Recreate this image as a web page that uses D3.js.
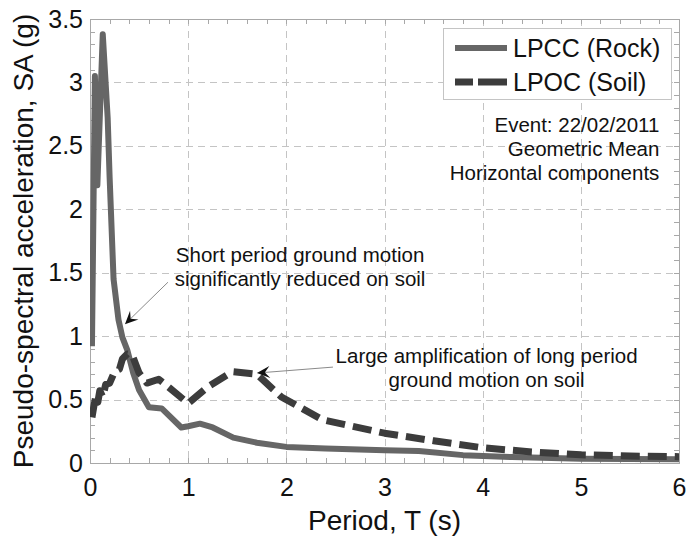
<!DOCTYPE html>
<html>
<head>
<meta charset="utf-8">
<script src="https://cdn.jsdelivr.net/npm/d3@7"></script>
<style>
  body { margin: 0; background: #fff; }
  text { font-family: "Liberation Sans", Arial, Helvetica, sans-serif; fill: #111; }
</style>
</head>
<body>
<svg id="chart" width="688" height="537"></svg>
<script>
// Response spectra, 22 Feb 2011 event (geometric mean of horizontal components)
const rockT  = [0.02, 0.05, 0.075, 0.13, 0.18, 0.20, 0.24, 0.29, 0.33, 0.38, 0.44, 0.50, 0.60, 0.73, 0.93, 1.00, 1.12, 1.25, 1.46, 1.70, 2.00, 2.40, 3.00, 3.35, 3.80, 4.30, 5.00, 6.00];
const rockSA = [0.92, 3.05, 2.19, 3.38, 2.72, 2.25, 1.45, 1.13, 0.99, 0.89, 0.71, 0.575, 0.44, 0.43, 0.28, 0.29, 0.31, 0.28, 0.20, 0.16, 0.127, 0.115, 0.10, 0.095, 0.062, 0.047, 0.033, 0.03];

const soilT  = [0.02, 0.04, 0.06, 0.08, 0.10, 0.13, 0.16, 0.20, 0.25, 0.30, 0.33, 0.38, 0.43, 0.50, 0.58, 0.70, 0.75, 1.00, 1.20, 1.45, 1.70, 1.95, 2.37, 3.00, 3.50, 4.00, 4.50, 5.00, 5.50, 6.00];
const soilSA = [0.36, 0.45, 0.53, 0.48, 0.57, 0.52, 0.62, 0.63, 0.72, 0.74, 0.82, 0.86, 0.85, 0.71, 0.63, 0.66, 0.63, 0.47, 0.60, 0.72, 0.70, 0.52, 0.34, 0.235, 0.175, 0.12, 0.087, 0.065, 0.055, 0.05];

const xTicks = [0, 1, 2, 3, 4, 5, 6];
const yTicks = [0, 0.5, 1, 1.5, 2, 2.5, 3, 3.5];
const seriesNames = ["LPCC (Rock)", "LPOC (Soil)"];
const eventLines = ["Event: 22/02/2011", "Geometric Mean", "Horizontal components"];
const note1Lines = ["Short period ground motion", "significantly reduced on soil"];
const note2Lines = ["Large amplification of long period", "ground motion on soil"];
// annotation anchors in data units [T, SA]
const eventAt = [5.80, 2.606];
const note1At = [2.14, 1.583];
const note2At = [4.04, 0.787];
const arrow1 = { from: [0.794, 1.425], to: [0.356, 1.094] };
const arrow2 = { from: [2.475, 0.756], to: [1.70, 0.709] };

const svg = d3.select("#chart");
const x = d3.scaleLinear().domain([0, 6]).range([90, 679]);
const y = d3.scaleLinear().domain([0, 3.5]).range([463, 19]);
const [x0, x1] = x.range();
const [y0, y1] = y.range();

// grid
const grid = svg.append("g").attr("stroke", "#c4c4c4").attr("stroke-width", 1).attr("stroke-dasharray", "7,5");
grid.selectAll(".gx").data(xTicks.filter(t => t > 0 && t < 6)).join("line")
  .attr("x1", d => Math.round(x(d)) + 0.5).attr("x2", d => Math.round(x(d)) + 0.5)
  .attr("y1", y1).attr("y2", y0);
grid.selectAll(".gy").data(yTicks.filter(t => t > 0 && t < 3.5)).join("line")
  .attr("y1", d => Math.round(y(d)) + 0.5).attr("y2", d => Math.round(y(d)) + 0.5)
  .attr("x1", x0).attr("x2", x1);

// box and inward minor ticks on all four sides
const frame = svg.append("g").attr("stroke", "#a8a8a8").attr("stroke-width", 1);
frame.append("rect").attr("x", x0 + 0.5).attr("y", y1 + 0.5)
  .attr("width", x1 - x0).attr("height", y0 - y1).attr("fill", "none");
const tl = 5;
const xm = d3.range(0, 6.001, 0.2);
const ym = d3.range(0, 3.501, 0.1);
frame.selectAll(".tb").data(xm).join("line")
  .attr("x1", d => Math.round(x(d)) + 0.5).attr("x2", d => Math.round(x(d)) + 0.5)
  .attr("y1", y0).attr("y2", y0 - tl);
frame.selectAll(".tt").data(xm).join("line")
  .attr("x1", d => Math.round(x(d)) + 0.5).attr("x2", d => Math.round(x(d)) + 0.5)
  .attr("y1", y1).attr("y2", y1 + tl);
frame.selectAll(".tlft").data(ym).join("line")
  .attr("y1", d => Math.round(y(d)) + 0.5).attr("y2", d => Math.round(y(d)) + 0.5)
  .attr("x1", x0).attr("x2", x0 + tl);
frame.selectAll(".trt").data(ym).join("line")
  .attr("y1", d => Math.round(y(d)) + 0.5).attr("y2", d => Math.round(y(d)) + 0.5)
  .attr("x1", x1).attr("x2", x1 - tl);

// tick labels via d3 axes
const xAxis = svg.append("g").attr("transform", `translate(0,${y0})`)
  .call(d3.axisBottom(x).tickValues(xTicks).tickSize(0).tickPadding(15).tickFormat(String));
const yAxis = svg.append("g").attr("transform", `translate(${x0},0)`)
  .call(d3.axisLeft(y).tickValues(yTicks).tickSize(0).tickPadding(7).tickFormat(String));
[xAxis, yAxis].forEach(a => {
  a.select(".domain").remove();
  a.selectAll("text").attr("font-size", 25).attr("font-family", "Liberation Sans, Arial, sans-serif").attr("fill", "#111");
});

// axis titles
svg.append("text").attr("x", (x0 + x1) / 2).attr("y", 530).attr("text-anchor", "middle")
  .attr("font-size", 28).text("Period, T (s)");
svg.append("text").attr("transform", `translate(33,${(y0 + y1) / 2}) rotate(-90)`)
  .attr("text-anchor", "middle").attr("font-size", 28).text("Pseudo-spectral acceleration, SA (g)");

// curves
svg.append("clipPath").attr("id", "plotclip").append("rect")
  .attr("x", x0).attr("y", y1).attr("width", x1 - x0).attr("height", y0 - y1);
const line = d3.line().x(d => x(d[0])).y(d => y(d[1]));
const plot = svg.append("g").attr("clip-path", "url(#plotclip)");
plot.append("path").datum(rockT.map((t, i) => [t, rockSA[i]]))
  .attr("d", line).attr("fill", "none").attr("stroke", "#666666")
  .attr("stroke-width", 6).attr("stroke-linejoin", "round");
plot.append("path").datum(soilT.map((t, i) => [t, soilSA[i]]))
  .attr("d", line).attr("fill", "none").attr("stroke", "#3c3c3c")
  .attr("stroke-width", 7).attr("stroke-dasharray", "19,8").attr("stroke-linejoin", "round");

// legend
const lg = svg.append("g");
lg.append("rect").attr("x", 443.5).attr("y", 28.5).attr("width", 228).attr("height", 71)
  .attr("fill", "#fff").attr("stroke", "#c4c4c4");
lg.append("line").attr("x1", 455).attr("x2", 507).attr("y1", 48).attr("y2", 48)
  .attr("stroke", "#666666").attr("stroke-width", 6);
lg.append("line").attr("x1", 455).attr("x2", 507).attr("y1", 82).attr("y2", 82)
  .attr("stroke", "#3c3c3c").attr("stroke-width", 7).attr("stroke-dasharray", "18,5,30");
lg.selectAll(".lt").data(seriesNames).join("text")
  .attr("x", 513).attr("y", (d, i) => 57 + i * 34).attr("font-size", 25).text(d => d);

// text annotations
function block(lines, at, anchor, size, gap) {
  svg.append("g").selectAll("text").data(lines).join("text")
    .attr("x", x(at[0])).attr("y", (d, i) => y(at[1]) + i * gap)
    .attr("text-anchor", anchor).attr("font-size", size).text(d => d);
}
block(eventLines, eventAt, "end", 20.5, 24);
block(note1Lines, note1At, "middle", 20.5, 23.5);
block(note2Lines, note2At, "middle", 20.5, 24);

// arrows with barbed heads
function arrow(a) {
  const [fx, fy] = [x(a.from[0]), y(a.from[1])];
  const [tx, ty] = [x(a.to[0]), y(a.to[1])];
  const ang = Math.atan2(ty - fy, tx - fx);
  const L = 13, Wd = 6, N = 8;
  svg.append("line").attr("x1", fx).attr("y1", fy)
    .attr("x2", tx - Math.cos(ang) * N).attr("y2", ty - Math.sin(ang) * N)
    .attr("stroke", "#8a8a8a").attr("stroke-width", 1);
  const pts = [[0, 0], [-L, -Wd], [-N, 0], [-L, Wd]];
  svg.append("polygon")
    .attr("points", pts.map(p => p.join(",")).join(" "))
    .attr("transform", `translate(${tx},${ty}) rotate(${ang * 180 / Math.PI})`)
    .attr("fill", "#111");
}
arrow(arrow1);
arrow(arrow2);
</script>
</body>
</html>
